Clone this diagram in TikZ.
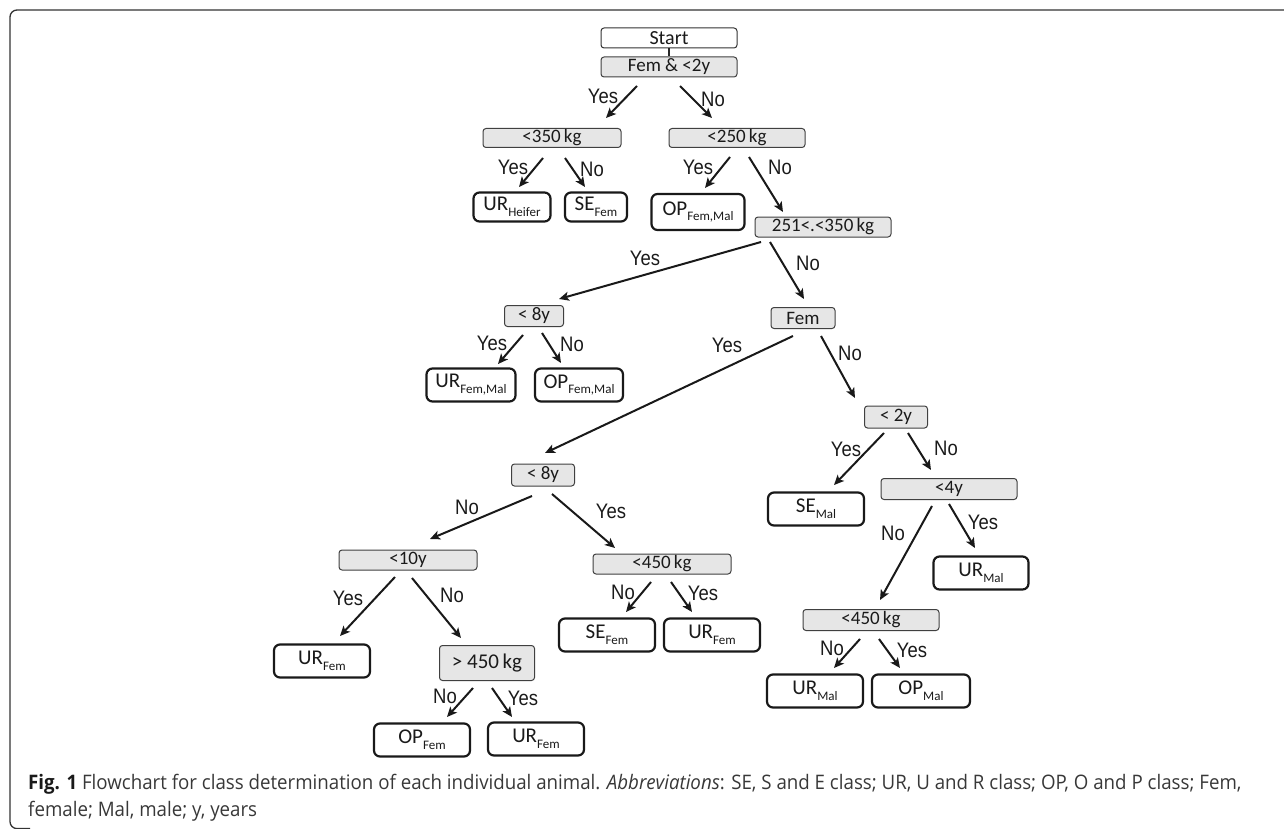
\documentclass[tikz,border=0pt]{standalone}
\usepackage{fontspec}
\usetikzlibrary{arrows.meta,positioning}
\newfontfamily\boxfont{Carlito}
\newfontfamily\lblfont[FakeStretch=0.88]{Liberation Sans}
\newfontfamily\capfont[FakeStretch=0.935]{Open Sans}
\definecolor{boxgray}{HTML}{E6E6E6}
\definecolor{txt}{HTML}{1A1A1A}
\definecolor{captxt}{HTML}{383838}
\newcommand\lowtxt[1]{\raisebox{-0.28em}{\fontsize{13}{14}\selectfont #1}}
\tikzset{
  dec/.style={draw=black!75, line width=1pt, fill=boxgray, rounded corners=3pt,
    inner sep=0pt, text=txt, font=\boxfont\fontsize{19}{21}\selectfont},
  startbox/.style={draw=black!80, line width=1pt, fill=white, rounded corners=3pt,
    inner sep=0pt, text=txt, font=\boxfont\fontsize{20}{22}\selectfont,
    minimum width=136pt, minimum height=20pt},
  leaf/.style={draw=black!90, line width=2.2pt, fill=white, rounded corners=6pt,
    inner sep=0pt, text=txt, font=\boxfont\fontsize{21}{23}\selectfont,
    minimum width=96pt, minimum height=33pt},
  arr/.style={line width=2pt, black!90, -{Stealth[length=10pt,width=9pt,inset=2.5pt]}},
  lbl/.style={inner sep=0pt, text=txt, font=\lblfont\fontsize{21}{23}\selectfont},
}
\begin{document}
\begin{tikzpicture}[x=1pt,y=-1pt]
\useasboundingbox (0,0) rectangle (1284,829);
% frame
\draw[line width=1.3pt, black!80, rounded corners=7pt] (1295,10) -- (10,10) -- (10,828.6) -- (30,828.6);

% nodes
\node[startbox] (start) at (669,38) {Start};
\node[dec, minimum width=136pt, minimum height=20pt] (fem2y) at (669,67) {Fem \& <2y};
\node[dec, minimum width=138pt, minimum height=19pt] (lt350) at (552,138) {<350\,kg};
\node[dec, minimum width=136pt, minimum height=19pt] (lt250) at (737,138) {<250\,kg};
\node[leaf, minimum width=77pt, minimum height=29pt] (urh) at (512,207) {UR\lowtxt{Heifer}};
\node[leaf, minimum width=62pt, minimum height=29pt] (sefa) at (596,207) {SE\lowtxt{Fem}};
\node[leaf, minimum width=93pt, minimum height=36pt] (opfm1) at (698,212) {OP\lowtxt{Fem,Mal}};
\node[dec, minimum width=136pt, minimum height=20pt] (r251) at (823,227) {251<.<350\,kg};
\node[dec, minimum width=59pt, minimum height=21pt] (y8a) at (534,316) {< 8y};
\node[dec, minimum width=64pt, minimum height=21pt] (fem) at (803,318) {Fem};
\node[leaf, minimum width=89pt] (urfm) at (471,385) {UR\lowtxt{Fem,Mal}};
\node[leaf, minimum width=88pt] (opfm2) at (579,385) {OP\lowtxt{Fem,Mal}};
\node[dec, minimum width=63pt, minimum height=22pt] (y2) at (896,417) {< 2y};
\node[leaf] (semal) at (816,509) {SE\lowtxt{Mal}};
\node[dec, minimum width=136pt, minimum height=21pt] (y4) at (949,489) {<4y};
\node[leaf, minimum width=95pt] (urmal1) at (981,573) {UR\lowtxt{Mal}};
\node[dec, minimum width=136pt, minimum height=21pt] (kg450r) at (871,620) {<450\,kg};
\node[leaf] (urmal2) at (815,691) {UR\lowtxt{Mal}};
\node[leaf, minimum width=98pt] (opmal) at (921,691) {OP\lowtxt{Mal}};
\node[dec, minimum width=63pt, minimum height=22pt] (y8b) at (543,475) {< 8y};
\node[dec, minimum width=138pt, minimum height=20pt] (y10) at (408,560) {<10y};
\node[dec, minimum width=138pt, minimum height=20pt] (kg450m) at (662,564) {<450\,kg};
\node[leaf] (urfem1) at (322,661) {UR\lowtxt{Fem}};
\node[dec, minimum width=95pt, minimum height=35pt, font=\boxfont\fontsize{21}{23}\selectfont] (gt450) at (487,663) {> 450\,kg};
\node[leaf] (opfem) at (422,740) {OP\lowtxt{Fem}};
\node[leaf] (urfem2) at (536,739) {UR\lowtxt{Fem}};
\node[leaf] (sefem) at (607,635) {SE\lowtxt{Fem}};
\node[leaf] (urfem3) at (712,635) {UR\lowtxt{Fem}};

% connectors
\draw[line width=1.8pt, black!85] (start) -- (fem2y);
\draw[arr] ([shift={(-32,19)}]fem2y.center) -- ([shift={(54,-20)}]lt350.center);
\draw[arr] ([shift={(11,19)}]fem2y.center) -- ([shift={(-25,-20)}]lt250.center);
\draw[arr] ([shift={(-9,20)}]lt350.center) -- ([shift={(7,-20)}]urh.center);
\draw[arr] ([shift={(13,20)}]lt350.center) -- ([shift={(-11,-20)}]sefa.center);
\draw[arr] ([shift={(-7,19)}]lt250.center) -- ([shift={(7,-24)}]opfm1.center);
\draw[arr] ([shift={(12,19)}]lt250.center) -- ([shift={(-40,-15)}]r251.center);
\draw[arr] ([shift={(-62,15)}]r251.center) -- ([shift={(25,-17)}]y8a.center);
\draw[arr] ([shift={(-53,15)}]r251.center) -- ([shift={(1,-19)}]fem.center);
\draw[arr] ([shift={(-11,19)}]y8a.center) -- ([shift={(27,-21)}]urfm.center);
\draw[arr] ([shift={(8,17)}]y8a.center) -- ([shift={(-18,-22)}]opfm2.center);
\draw[arr] ([shift={(-10,18)}]fem.center) -- ([shift={(2,-22)}]y8b.center);
\draw[arr] ([shift={(18,18)}]fem.center) -- ([shift={(-41,-19)}]y2.center);
\draw[arr] ([shift={(-12,16)}]y2.center) -- ([shift={(18,-24)}]semal.center);
\draw[arr] ([shift={(12,16)}]y2.center) -- ([shift={(-18,-19)}]y4.center);
\draw[arr] ([shift={(-17,17)}]y4.center) -- ([shift={(9,-20)}]kg450r.center);
\draw[arr] ([shift={(0,15)}]y4.center) -- ([shift={(-6,-25)}]urmal1.center);
\draw[arr] ([shift={(-11,19)}]kg450r.center) -- ([shift={(19,-23)}]urmal2.center);
\draw[arr] ([shift={(8,19)}]kg450r.center) -- ([shift={(-21,-23)}]opmal.center);
\draw[arr] ([shift={(-11,21)}]y8b.center) -- ([shift={(22,-21)}]y10.center);
\draw[arr] ([shift={(9,19)}]y8b.center) -- ([shift={(-47,-16)}]kg450m.center);
\draw[arr] ([shift={(-13,17)}]y10.center) -- ([shift={(18,-25)}]urfem1.center);
\draw[arr] ([shift={(4,18)}]y10.center) -- ([shift={(-26,-25)}]gt450.center);
\draw[arr] ([shift={(-14,25)}]gt450.center) -- ([shift={(25,-23)}]opfem.center);
\draw[arr] ([shift={(5,25)}]gt450.center) -- ([shift={(-24,-22)}]urfem2.center);
\draw[arr] ([shift={(-11,18)}]kg450m.center) -- ([shift={(19,-23)}]sefem.center);
\draw[arr] ([shift={(9,18)}]kg450m.center) -- ([shift={(-20,-23)}]urfem3.center);

% labels
\node[lbl] (l1) at (603,96) {Yes};
\node[lbl] (l2) at (713,99) {No};
\node[lbl] (l3) at (513,167) {Yes};
\node[lbl] (l4) at (592,169) {No};
\node[lbl] (l5) at (698,167) {Yes};
\node[lbl] (l6) at (780,167) {No};
\node[lbl] (l7) at (645,258) {Yes};
\node[lbl] (l8) at (808,263) {No};
\node[lbl] (l9) at (492,343) {Yes};
\node[lbl] (l10) at (572,344) {No};
\node[lbl] (l11) at (727,345) {Yes};
\node[lbl] (l12) at (850,353) {No};
\node[lbl] (l13) at (846,449) {Yes};
\node[lbl] (l14) at (946,448) {No};
\node[lbl] (l15) at (893,533) {No};
\node[lbl] (l16) at (983,522) {Yes};
\node[lbl] (l17) at (832,648) {No};
\node[lbl] (l18) at (912,650) {Yes};
\node[lbl] (l19) at (467,507) {No};
\node[lbl] (l20) at (611,511) {Yes};
\node[lbl] (l21) at (348,598) {Yes};
\node[lbl] (l22) at (452,595) {No};
\node[lbl] (l23) at (445,696) {No};
\node[lbl] (l24) at (523,698) {Yes};
\node[lbl] (l25) at (623,592) {No};
\node[lbl] (l26) at (703,593) {Yes};

% caption
\node[anchor=base west, inner sep=0pt, text=captxt, font=\capfont\fontsize{20}{24}\selectfont] (cap1) at (28,789)
  {\textcolor{black!90}{\textbf{Fig. 1}} Flowchart for class determination of each individual animal. \textit{Abbreviations}: SE, S and E class; UR, U and R class; OP, O and P class; Fem,};
\node[anchor=base west, inner sep=0pt, text=captxt, font=\capfont\fontsize{20}{24}\selectfont] (cap2) at (28,816)
  {female; Mal, male; y, years};
\end{tikzpicture}
\end{document}
